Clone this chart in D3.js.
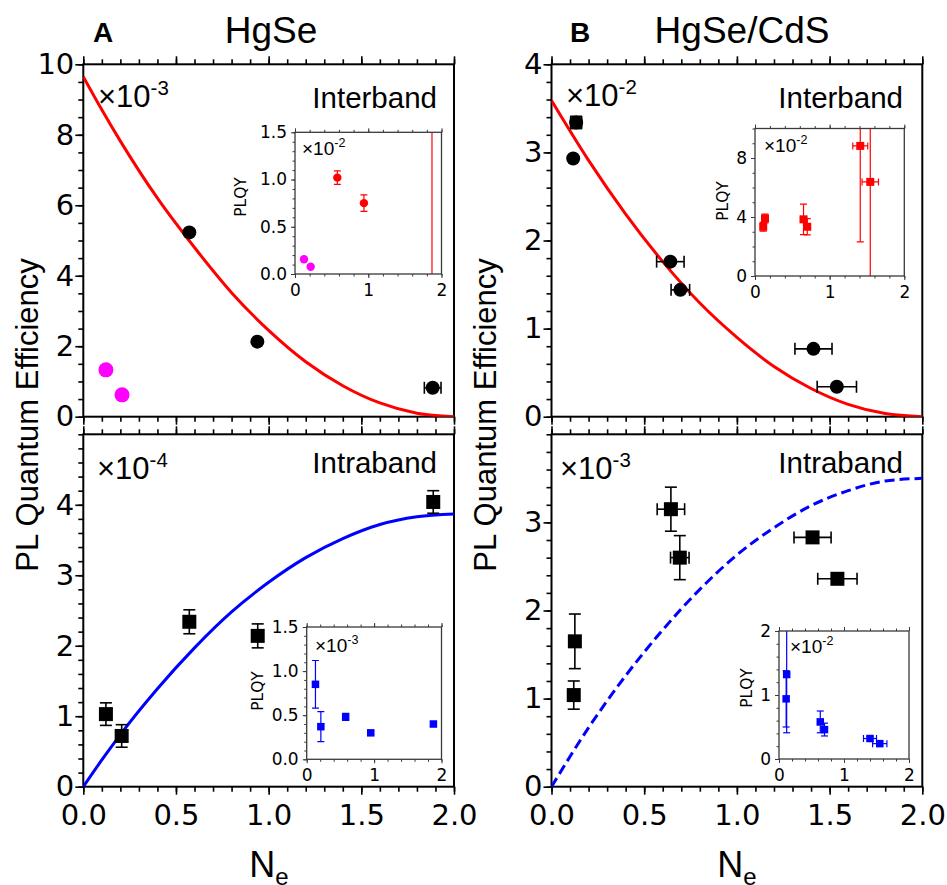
<!DOCTYPE html>
<html>
<head>
<meta charset="utf-8">
<script src="https://cdn.jsdelivr.net/npm/d3@7"></script>
<style>
  body { margin: 0; background: #fff; }
  svg { display: block; }
</style>
</head>
<body>
<svg id="chart" width="947" height="885"></svg>
<script>
const SANS = '"Liberation Sans", Arial, sans-serif'
const DEJAVU = '"DejaVu Sans", sans-serif'

// ---- values ----
const X_TICKS = [0, 0.5, 1, 1.5, 2]
const INSET_X_TICKS = [0, 1, 2]

// A, HgSe, interband (x10^-3)
const hgseInterTicks = [0, 2, 4, 6, 8, 10]
const hgseInterDots = [
    { x: 0.572, y: 5.23 }, { x: 0.939, y: 2.13 }, { x: 1.885, y: 0.82, xe: 0.045 }
]
const hgseInterPink = [{ x: 0.122, y: 1.33 }, { x: 0.209, y: 0.62 }]
const hgseInterFit = [
    [0, 9.65], [0.1, 8.71], [0.2, 7.82], [0.4, 6.2], [0.6, 4.8], [0.8, 3.52],
    [1.0, 2.45], [1.2, 1.56], [1.4, 0.88], [1.6, 0.39], [1.8, 0.1], [2, 0]
]
// inset, PLQY (x10^-2)
const hgseInterInsetTicks = [0, 0.5, 1, 1.5]
const hgseInterInset = [
    { x: 0.578, y: 1.02, ye: 0.072 }, { x: 0.941, y: 0.75, ye: 0.088 }, { x: 1.87, y: 2.2, ye: 2.3 }
]
const hgseInterInsetPink = [{ x: 0.123, y: 0.156 }, { x: 0.214, y: 0.077 }]

// A, HgSe, intraband (x10^-4)
const hgseIntraTicks = [0, 1, 2, 3, 4]
const hgseIntraDots = [
    { x: 0.122, y: 1.03, ye: 0.16 }, { x: 0.207, y: 0.72, ye: 0.16 },
    { x: 0.572, y: 2.34, ye: 0.17 }, { x: 0.941, y: 2.14, ye: 0.17 },
    { x: 1.888, y: 4.04, ye: 0.16 }
]
const hgseIntraFit = [
    [0, 0], [0.1, 0.38], [0.2, 0.74], [0.4, 1.39], [0.6, 1.97], [0.8, 2.48],
    [1.0, 2.9], [1.2, 3.25], [1.4, 3.52], [1.6, 3.72], [1.8, 3.83], [2, 3.87]
]
// inset, PLQY (x10^-3)
const hgseIntraInsetTicks = [0, 0.5, 1, 1.5]
const hgseIntraInset = [
    { x: 0.13, y: 0.85, ye: 0.27 }, { x: 0.21, y: 0.37, ye: 0.17 },
    { x: 0.578, y: 0.48, ye: 0.04 }, { x: 0.95, y: 0.30, ye: 0.02 },
    { x: 1.88, y: 0.40, ye: 0.02 }
]

// B, HgSe/CdS, interband (x10^-2)
const cdsInterTicks = [0, 1, 2, 3, 4]
const cdsInterDots = [
    { x: 0.133, y: 3.34, ye: 0.07, xe: 0.03 }, { x: 0.117, y: 2.93 },
    { x: 0.641, y: 1.76, xe: 0.074 }, { x: 0.695, y: 1.44, xe: 0.05 },
    { x: 1.413, y: 0.77, xe: 0.10 }, { x: 1.539, y: 0.34, xe: 0.106 }
]
const cdsInterFit = [
    [0, 3.59], [0.2, 2.91], [0.4, 2.30], [0.6, 1.76], [0.8, 1.29], [1.0, 0.90],
    [1.2, 0.57], [1.4, 0.32], [1.6, 0.14], [1.8, 0.036], [2, 0]
]
// inset, PLQY (x10^-2)
const cdsInterInsetTicks = [0, 4, 8]
const cdsInterInset = [
    { x: 0.11, y: 3.34, ye: 0.3 }, { x: 0.134, y: 3.9, ye: 0.3 },
    { x: 0.65, y: 3.84, ye: 1.03, xe: 0.04 }, { x: 0.70, y: 3.34, ye: 0.55, xe: 0.04 },
    { x: 1.41, y: 8.82, ye: 6.5, xe: 0.1 }, { x: 1.544, y: 6.38, ye: 10, xe: 0.11 }
]

// B, HgSe/CdS, intraband (x10^-3)
const cdsIntraTicks = [0, 1, 2, 3]
const cdsIntraDots = [
    { x: 0.12, y: 1.04, ye: 0.16 }, { x: 0.126, y: 1.65, ye: 0.31 },
    { x: 0.644, y: 3.15, ye: 0.25, xe: 0.074 }, { x: 0.692, y: 2.60, ye: 0.25, xe: 0.05 },
    { x: 1.408, y: 2.83, xe: 0.10 }, { x: 1.542, y: 2.36, xe: 0.106 }
]
const cdsIntraFit = [
    [0, 0], [0.2, 0.67], [0.4, 1.26], [0.6, 1.78], [0.8, 2.24], [1.0, 2.63],
    [1.2, 2.94], [1.4, 3.19], [1.6, 3.36], [1.8, 3.47], [2, 3.5]
]
// inset, PLQY (x10^-2)
const cdsIntraInsetTicks = [0, 1, 2]
const cdsIntraInset = [
    { x: 0.118, y: 1.32, ye: 0.91 }, { x: 0.11, y: 0.94, ye: 0.44 },
    { x: 0.635, y: 0.58, ye: 0.17, xe: 0.04 }, { x: 0.70, y: 0.46, ye: 0.1, xe: 0.04 },
    { x: 1.40, y: 0.32, xe: 0.1, ye: 0.03 }, { x: 1.55, y: 0.24, xe: 0.11, ye: 0.03 }
]

const svg = d3.select('#chart')
let clipId = 0

// frame + ticks on left, top and bottom, all pointing outward
const frame = (g, x, y, s) => {
    const [x0, x1] = x.range()
    const [y1, y0] = y.range()
    const minorX = d3.range(0, 2 + 1e-9, s.xStep)
    const minorY = d3.range(y.domain()[0], y.domain()[1] + 1e-9, s.yStep)
    const add = (axis, t) => g.append('g')
        .attr('transform', t)
        .call(axis)
        .call(a => a.select('.domain').remove())
        .call(a => a.selectAll('line')
            .attr('stroke', s.color)
            .attr('stroke-width', s.lw))
        .call(a => a.selectAll('text')
            .attr('fill', '#000')
            .style('font-family', DEJAVU)
            .style('font-size', s.font + 'px'))

    add(d3.axisLeft(y).tickValues(minorY).tickSize(s.minor).tickFormat(''), `translate(${x0},0)`)
    add(d3.axisLeft(y).tickValues(s.yTicks).tickSize(s.major)
        .tickPadding(s.yPad).tickFormat(s.yFmt), `translate(${x0},0)`)
    add(d3.axisTop(x).tickValues(minorX).tickSize(s.minor).tickFormat(''), `translate(0,${y0})`)
    add(d3.axisTop(x).tickValues(s.xTicks).tickSize(s.major).tickFormat(''), `translate(0,${y0})`)
    add(d3.axisBottom(x).tickValues(minorX).tickSize(s.minor).tickFormat(''), `translate(0,${y1})`)
    add(d3.axisBottom(x).tickValues(s.xTicks).tickSize(s.major)
        .tickPadding(s.xPad).tickFormat(s.xFmt), `translate(0,${y1})`)

    g.append('rect')
        .attr('x', x0).attr('y', y0)
        .attr('width', x1 - x0).attr('height', y1 - y0)
        .attr('fill', 'none')
        .attr('stroke', s.color)
        .attr('stroke-width', s.frameW)
}

const clipped = (g, x, y) => {
    const id = 'clip' + (clipId++)
    const [x0, x1] = x.range()
    const [y1, y0] = y.range()
    g.append('clipPath').attr('id', id)
        .append('rect')
        .attr('x', x0).attr('y', y0)
        .attr('width', x1 - x0).attr('height', y1 - y0)
    return g.append('g').attr('clip-path', `url(#${id})`)
}

const errorBars = (g, x, y, data, color, cap, lw) => {
    const ve = data.filter(d => d.ye)
    const he = data.filter(d => d.xe)
    const line = (sel, x1, y1, x2, y2) => g.selectAll(null)
        .data(sel)
        .join('line')
            .attr('x1', x1).attr('y1', y1)
            .attr('x2', x2).attr('y2', y2)
            .attr('stroke', color)
            .attr('stroke-width', lw)
    line(ve, d => x(d.x), d => y(d.y - d.ye), d => x(d.x), d => y(d.y + d.ye))
    line(ve, d => x(d.x) - cap, d => y(d.y - d.ye), d => x(d.x) + cap, d => y(d.y - d.ye))
    line(ve, d => x(d.x) - cap, d => y(d.y + d.ye), d => x(d.x) + cap, d => y(d.y + d.ye))
    line(he, d => x(d.x - d.xe), d => y(d.y), d => x(d.x + d.xe), d => y(d.y))
    line(he, d => x(d.x - d.xe), d => y(d.y) - cap, d => x(d.x - d.xe), d => y(d.y) + cap)
    line(he, d => x(d.x + d.xe), d => y(d.y) - cap, d => x(d.x + d.xe), d => y(d.y) + cap)
}

const dots = (g, x, y, data, color, r) => g.selectAll(null)
    .data(data)
    .join('circle')
        .attr('cx', d => x(d.x))
        .attr('cy', d => y(d.y))
        .attr('r', r)
        .attr('fill', color)

const squares = (g, x, y, data, color, size) => g.selectAll(null)
    .data(data)
    .join('rect')
        .attr('x', d => x(d.x) - size / 2)
        .attr('y', d => y(d.y) - size / 2)
        .attr('width', size)
        .attr('height', size)
        .attr('fill', color)

const fitLine = (g, x, y, pts, color, dash) => g.append('path')
    .datum(pts)
    .attr('fill', 'none')
    .attr('stroke', color)
    .attr('stroke-width', 3)
    .attr('stroke-dasharray', dash || null)
    .attr('d', d3.line()
        .x(d => x(d[0]))
        .y(d => y(d[1]))
        .curve(d3.curveMonotoneX))

const text = (g, x, y, str, size, opts = {}) => g.append('text')
    .attr('x', x).attr('y', y)
    .attr('text-anchor', opts.anchor || 'start')
    .attr('font-weight', opts.bold ? 'bold' : null)
    .style('font-family', opts.family || SANS)
    .style('font-size', size + 'px')
    .text(str)

const sci = (g, x, y, exp, size) => {
    const t = text(g, x, y, '×10', size)
    t.append('tspan')
        .attr('dy', -size * 0.4)
        .style('font-size', (size * 0.66) + 'px')
        .text(exp)
}

const mainPanel = (xr, yr, yMax, yTicks, yStep, xLabels) => {
    const g = svg.append('g')
    const x = d3.scaleLinear().domain([0, 2]).range(xr)
    const y = d3.scaleLinear().domain([0, yMax]).range([yr[1], yr[0]])
    frame(g, x, y, {
        xTicks: X_TICKS, yTicks, xStep: 0.1, yStep,
        yFmt: d3.format('d'), xFmt: xLabels ? d3.format('.1f') : '',
        major: 8, minor: 5, yPad: 1, xPad: 10, font: 29,
        color: '#000', lw: 1.6, frameW: 2
    })
    return { g, x, y, plot: clipped(g, x, y) }
}

const inset = (xr, yr, yMax, yTicks, yStep, yFmt) => {
    const g = svg.append('g')
    const x = d3.scaleLinear().domain([0, 2]).range(xr)
    const y = d3.scaleLinear().domain([0, yMax]).range([yr[1], yr[0]])
    g.append('rect')
        .attr('x', xr[0]).attr('y', yr[0])
        .attr('width', xr[1] - xr[0]).attr('height', yr[1] - yr[0])
        .attr('fill', '#fff')
    const plot = clipped(g, x, y)
    frame(g, x, y, {
        xTicks: INSET_X_TICKS, yTicks, xStep: 0.2, yStep,
        yFmt, xFmt: d3.format('d'),
        major: 4, minor: 2.5, yPad: 4, xPad: 6, font: 17,
        color: '#3a3a3a', lw: 1, frameW: 1.3
    })
    return { g, x, y, plot }
}

const yLabel = (cx, cy) => svg.append('text')
    .attr('transform', `translate(${cx},${cy}) rotate(-90)`)
    .attr('text-anchor', 'middle')
    .style('font-family', SANS)
    .style('font-size', '31px')
    .text('PL Quantum Efficiency')

const plqy = (cx, cy) => svg.append('text')
    .attr('transform', `translate(${cx},${cy}) rotate(-90)`)
    .attr('text-anchor', 'middle')
    .style('font-family', DEJAVU)
    .style('font-size', '15.5px')
    .text('PLQY')

const xLabel = (cx, y) => {
    const t = text(svg, cx, y, 'N', 36, { anchor: 'middle' })
    t.append('tspan')
        .attr('dy', 8)
        .style('font-size', '24px')
        .text('e')
}

// ---------- panel A : HgSe ----------
const aTop = mainPanel([83.3, 454], [64.3, 416.7], 10, hgseInterTicks, 0.5, false)
fitLine(aTop.plot, aTop.x, aTop.y, hgseInterFit, '#ff0000')
errorBars(aTop.g, aTop.x, aTop.y, hgseInterDots, '#000', 6, 1.6)
dots(aTop.g, aTop.x, aTop.y, hgseInterDots, '#000', 7)
dots(aTop.g, aTop.x, aTop.y, hgseInterPink, '#ff00ff', 7.5)
sci(aTop.g, 98, 107, '-3', 31)
text(aTop.g, 437, 108, 'Interband', 29.5, { anchor: 'end' })

const aTopIn = inset([295, 441.5], [132.3, 274], 1.5, hgseInterInsetTicks, 0.1, d3.format('.1f'))
errorBars(aTopIn.plot, aTopIn.x, aTopIn.y, hgseInterInset, '#ff0000', 3.5, 1.2)
dots(aTopIn.plot, aTopIn.x, aTopIn.y, hgseInterInset, '#ff0000', 4.2)
dots(aTopIn.plot, aTopIn.x, aTopIn.y, hgseInterInsetPink, '#ff00ff', 4.2)
sci(aTopIn.g, 302, 155, '-2', 19)
plqy(246, 197)

const aBot = mainPanel([83.3, 454], [434.3, 786.7], 5, hgseIntraTicks, 0.2, true)
fitLine(aBot.plot, aBot.x, aBot.y, hgseIntraFit, '#0000ff')
errorBars(aBot.g, aBot.x, aBot.y, hgseIntraDots, '#000', 6, 1.6)
squares(aBot.g, aBot.x, aBot.y, hgseIntraDots, '#000', 14)
sci(aBot.g, 97, 479, '-4', 31)
text(aBot.g, 437, 473, 'Intraband', 29.5, { anchor: 'end' })

const aBotIn = inset([306.7, 441.5], [627, 759.3], 1.5, hgseIntraInsetTicks, 0.1, d3.format('.1f'))
errorBars(aBotIn.plot, aBotIn.x, aBotIn.y, hgseIntraInset, '#0000ff', 3.5, 1.2)
squares(aBotIn.plot, aBotIn.x, aBotIn.y, hgseIntraInset, '#0000ff', 7.5)
sci(aBotIn.g, 315, 652, '-3', 19)
plqy(263, 691)

text(svg, 93, 42, 'A', 28, { bold: true })
text(svg, 271, 43, 'HgSe', 37, { anchor: 'middle' })
yLabel(38, 415)
xLabel(269, 877)

// ---------- panel B : HgSe/CdS ----------
const bTop = mainPanel([551.5, 922.3], [64.3, 416.7], 4, cdsInterTicks, 0.2, false)
fitLine(bTop.plot, bTop.x, bTop.y, cdsInterFit, '#ff0000')
errorBars(bTop.g, bTop.x, bTop.y, cdsInterDots, '#000', 6, 1.6)
dots(bTop.g, bTop.x, bTop.y, cdsInterDots, '#000', 7)
sci(bTop.g, 566, 106, '-2', 31)
text(bTop.g, 903, 108, 'Interband', 29.5, { anchor: 'end' })

const bTopIn = inset([755, 904.3], [128.5, 276], 10, cdsInterInsetTicks, 1, d3.format('d'))
errorBars(bTopIn.plot, bTopIn.x, bTopIn.y, cdsInterInset, '#ff0000', 3.5, 1.2)
squares(bTopIn.plot, bTopIn.x, bTopIn.y, cdsInterInset, '#ff0000', 8)
sci(bTopIn.g, 764, 152, '-2', 19)
plqy(728, 201)

const bBot = mainPanel([551.5, 922.3], [434.3, 786.7], 4, cdsIntraTicks, 0.2, true)
fitLine(bBot.plot, bBot.x, bBot.y, cdsIntraFit, '#0000ff', '10,5')
errorBars(bBot.g, bBot.x, bBot.y, cdsIntraDots, '#000', 6, 1.6)
squares(bBot.g, bBot.x, bBot.y, cdsIntraDots, '#000', 14)
sci(bBot.g, 560, 479, '-3', 31)
text(bBot.g, 903, 473, 'Intraband', 29.5, { anchor: 'end' })

const bBotIn = inset([779, 909], [631, 759], 2, cdsIntraInsetTicks, 0.2, d3.format('d'))
errorBars(bBotIn.plot, bBotIn.x, bBotIn.y, cdsIntraInset, '#0000ff', 3.5, 1.2)
squares(bBotIn.plot, bBotIn.x, bBotIn.y, cdsIntraInset, '#0000ff', 7.5)
sci(bBotIn.g, 790, 653, '-2', 19)
plqy(752, 688)

text(svg, 570, 42, 'B', 28, { bold: true })
text(svg, 742, 43, 'HgSe/CdS', 37, { anchor: 'middle' })
yLabel(496, 415)
xLabel(737, 877)
</script>
</body>
</html>
